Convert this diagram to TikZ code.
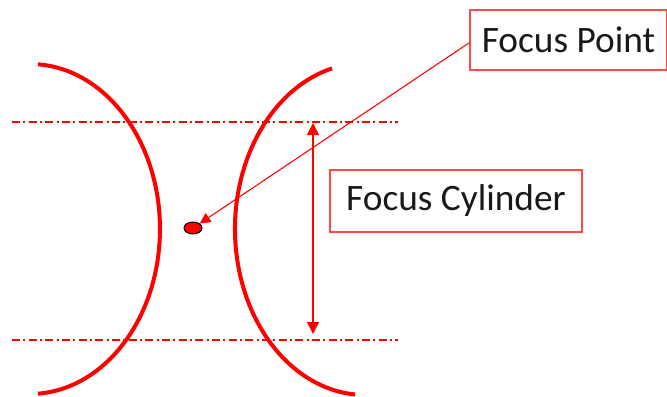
\documentclass[tikz,border=0pt]{standalone}
\usepackage{fontspec}
\setmainfont{Carlito}
\usepackage{tikz}
\usetikzlibrary{arrows.meta, positioning, shapes.geometric}
\definecolor{fred}{HTML}{FF0000}
\definecolor{fbox}{HTML}{FF4A4A}
\tikzset{
  lbox/.style={draw=fbox, line width=1pt, fill=white, inner sep=0pt,
               font=\fontsize{28}{34}\selectfont, text=black!90},
  lens/.style={draw=fred, line width=3pt},
  axis/.style={draw=fred, line width=0.8pt,
               dash pattern=on 6pt off 2.5pt on 1.5pt off 2.5pt},
  arr/.style={-{Triangle[length=8pt,width=8pt]}, fred, line width=0.8pt},
}
\begin{document}
\begin{tikzpicture}[x=0.75pt, y=0.75pt,
    dotnode/.style={ellipse, draw=black, line width=0.7pt, fill=fred,
                    minimum width=13.5pt, minimum height=9pt, inner sep=0pt},
    darr/.style={{Triangle[length=9pt,width=9pt]}-{Triangle[length=9pt,width=9pt]},
                 fred, line width=1.1pt}]
  \useasboundingbox (0,0) rectangle (667,-396);
  % lenses
  \draw[lens] (37.9,-64.3) arc[start angle=86.5, end angle=-86.5, x radius=130, y radius=165];
  \draw[lens] (332,-68.4) arc[start angle=104.7, end angle=265.6, x radius=130, y radius=166];
  % cylinder limits
  \draw[axis] (12,-122) -- (398,-122);
  \draw[axis] (12,-340) -- (398,-340);
  \coordinate (ctop) at (313,-123);
  \coordinate (cbot) at (313,-334);
  \draw[darr] (ctop) -- (cbot);
  % labels
  \node[dotnode] (dot) at (193,-228) {};
  \node[lbox, minimum width=147.75pt, minimum height=45pt] (fp) at (568.5,-40) {Focus Point};
  \node[lbox, minimum width=189pt, minimum height=46.5pt] (fc) at (456,-201) {Focus Cylinder};
  \draw[arr] ([yshift=-2pt]fp.west) -- (dot);
\end{tikzpicture}
\end{document}
